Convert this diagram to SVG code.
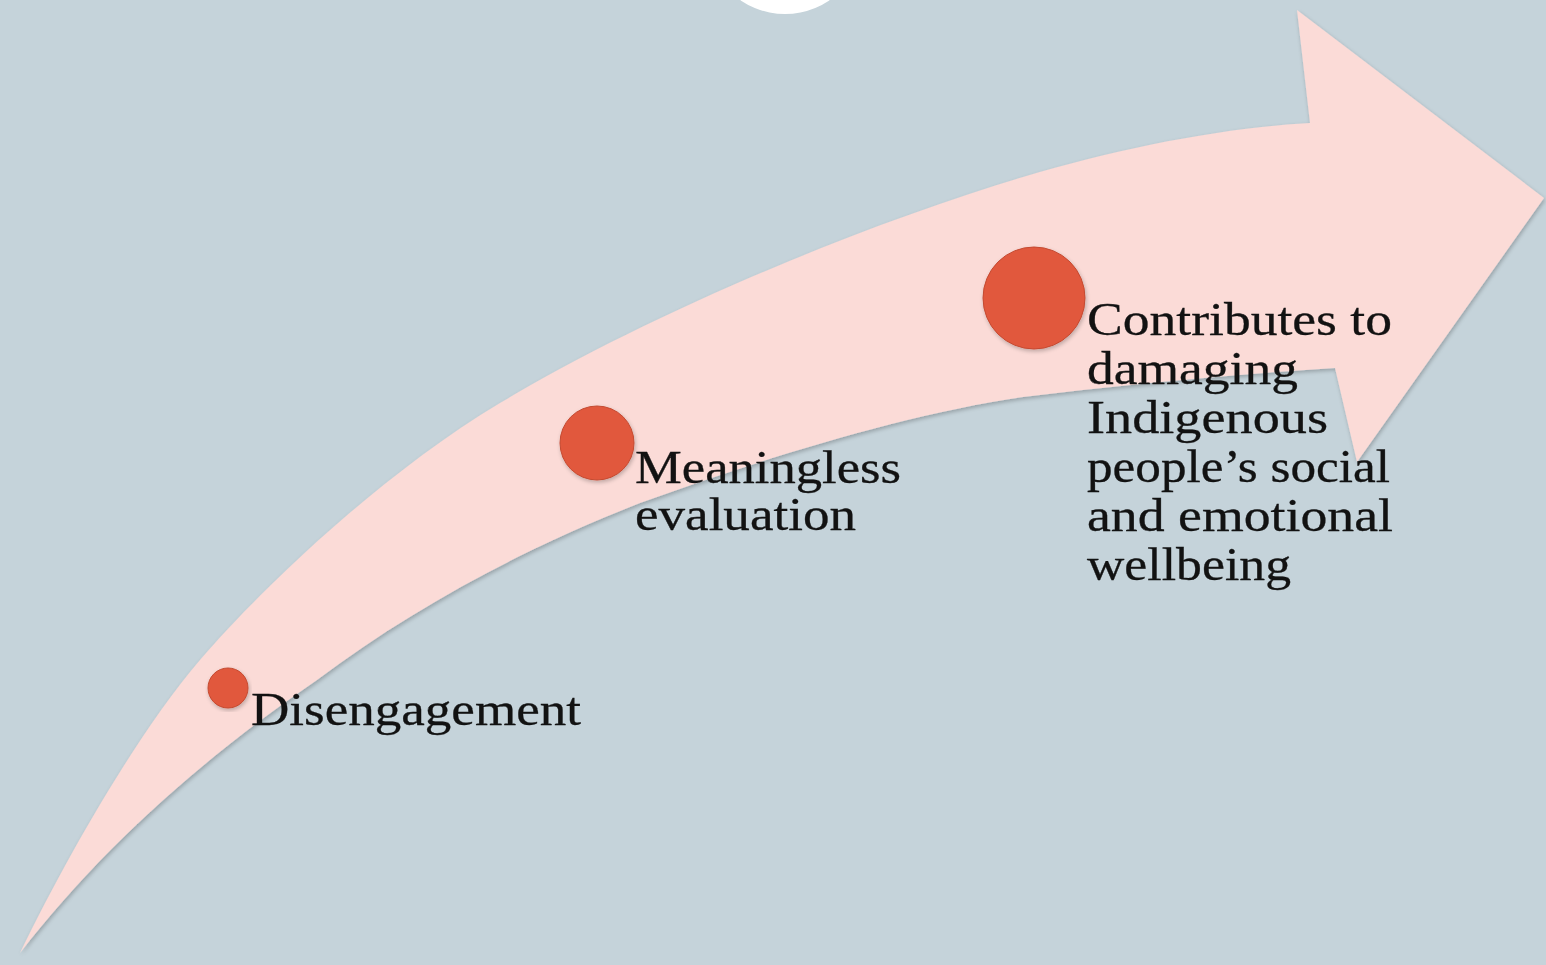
<svg xmlns="http://www.w3.org/2000/svg" width="1546" height="965" viewBox="0 0 1546 965">
  <defs>
    <style>
      .lbl { font-family: "Liberation Serif", "Times New Roman", serif; font-size: 47px; fill: #121212; stroke: #121212; stroke-width: 0.3; }
      .dot { fill: #e1583c; stroke: #c44a31; stroke-width: 1; }
    </style>
    <filter id="sh" x="-10%" y="-10%" width="120%" height="120%">
      <feGaussianBlur in="SourceAlpha" stdDeviation="2"/>
      <feOffset dx="1" dy="2" result="b"/>
      <feComponentTransfer><feFuncA type="linear" slope="0.25"/></feComponentTransfer>
      <feMerge><feMergeNode/><feMergeNode in="SourceGraphic"/></feMerge>
    </filter>
  </defs>
  <rect width="1546" height="965" fill="#c5d3da"/>
  <circle cx="785" cy="-65" r="79" fill="#ffffff"/>
  <g id="arrow">
    <path filter="url(#sh)" fill="#fbdbd7" d="M20,953 C70,850 140,730 200,660 C260,590 380,475 500,403 C640,319 850,229 1023,177 C1120,148 1220,128 1310,123 L1297,10 L1544,198 L1357,462 L1335,368 Q1180,378 1023,397 C900,415 760,460 640,503 C520,550 410,610 317,680 C200,760 100,850 20,953 Z"/>
  </g>
  <g id="connectors"></g>
  <g id="node-disengagement">
    <circle class="dot" filter="url(#sh)" cx="228" cy="688" r="20"/>
    <text class="lbl" x="251" y="725" textLength="330" lengthAdjust="spacingAndGlyphs">Disengagement</text>
  </g>
  <g id="node-meaningless">
    <circle class="dot" filter="url(#sh)" cx="597" cy="443" r="37"/>
    <text class="lbl" x="635" y="483" textLength="266" lengthAdjust="spacingAndGlyphs">Meaningless</text>
    <text class="lbl" x="635" y="530" textLength="221" lengthAdjust="spacingAndGlyphs">evaluation</text>
  </g>
  <g id="node-contributes">
    <circle class="dot" filter="url(#sh)" cx="1034" cy="298" r="51"/>
    <text class="lbl" x="1087" y="335" textLength="305" lengthAdjust="spacingAndGlyphs">Contributes to</text>
    <text class="lbl" x="1087" y="384" textLength="211" lengthAdjust="spacingAndGlyphs">damaging</text>
    <text class="lbl" x="1087" y="433" textLength="241" lengthAdjust="spacingAndGlyphs">Indigenous</text>
    <text class="lbl" x="1087" y="482" textLength="303" lengthAdjust="spacingAndGlyphs">people’s social</text>
    <text class="lbl" x="1087" y="531" textLength="306" lengthAdjust="spacingAndGlyphs">and emotional</text>
    <text class="lbl" x="1087" y="580" textLength="204" lengthAdjust="spacingAndGlyphs">wellbeing</text>
  </g>
</svg>
